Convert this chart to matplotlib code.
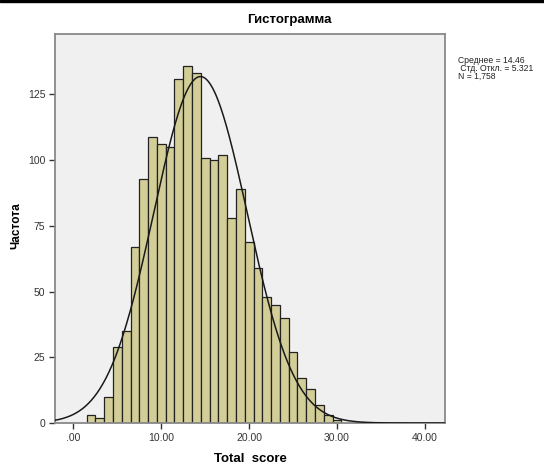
import numpy as np
import matplotlib
matplotlib.use("Agg")
import matplotlib.pyplot as plt
from matplotlib.patches import Rectangle

plt.rcParams['font.family'] = ['Liberation Sans', 'DejaVu Sans']

# данные гистограммы (центры интервалов шириной 1 и частоты)
bin_centers = [2, 3, 4, 5, 6, 7, 8, 9, 10, 11, 12, 13, 14, 15, 16,
               17, 18, 19, 20, 21, 22, 23, 24, 25, 26, 27, 28, 29, 30]
counts = [3, 2, 10, 29, 35, 67, 93, 109, 106, 105, 131, 136, 133, 101, 100,
          102, 78, 89, 69, 59, 48, 45, 40, 27, 17, 13, 7, 3, 1]
mean_val = 14.46
std_val = 5.321
n_val = 1758
x_ticks = [0, 10, 20, 30, 40]
x_tick_labels = [".00", "10.00", "20.00", "30.00", "40.00"]
y_ticks = [0, 25, 50, 75, 100, 125]

W, H = 544, 465
fig = plt.figure(figsize=(W / 100, H / 100), dpi=100)
ax = fig.add_axes([55 / W, 42 / H, 390 / W, 389 / H])
ax.set_facecolor("#f0f0f0")

ax.bar(bin_centers, counts, width=1.0, color="#d3ce97",
       edgecolor="#222222", linewidth=0.9, zorder=2)

# нормальная кривая
xs = np.linspace(-2.1, 42.3, 400)
ys = n_val * 1.0 / (std_val * np.sqrt(2 * np.pi)) * np.exp(-0.5 * ((xs - mean_val) / std_val) ** 2)
ax.plot(xs, ys, color="#1a1a1a", lw=1.1, zorder=3)

ax.set_xlim(-2.1, 42.3)
ax.set_ylim(0, 148)
ax.set_xticks(x_ticks)
ax.set_xticklabels(x_tick_labels)
ax.set_yticks(y_ticks)
ax.tick_params(direction="out", length=4, width=1, colors="#333333",
               labelsize=7.5, pad=3)
for s in ax.spines.values():
    s.set_color("#888888")
    s.set_linewidth(1.3)

fig.text(289 / W, 1 - 20 / H, "Гистограмма", ha="center", va="center",
         fontsize=9.5, fontweight="bold")
fig.text(250 / W, 1 - 459 / H, "Total  score", ha="center", va="center",
         fontsize=9.5, fontweight="bold")
fig.text(16 / W, 1 - 226 / H, "Частота", ha="center", va="center",
         rotation=90, fontsize=8.5, fontweight="bold")

# подпись со статистикой
stats_text = "Среднее = %.2f\n Стд. Откл. = %.3f\nN = 1,758" % (mean_val, std_val)
fig.text(458 / W, 1 - 56 / H, stats_text, fontsize=6.2, va="top", ha="left",
         linespacing=0.82, color="#222222")

# чёрная линия сверху
fig.patches.append(Rectangle((0, 1 - 2.5 / H), 1, 2.5 / H, transform=fig.transFigure,
                             color="black", figure=fig))

fig.savefig("out.png", dpi=100)
